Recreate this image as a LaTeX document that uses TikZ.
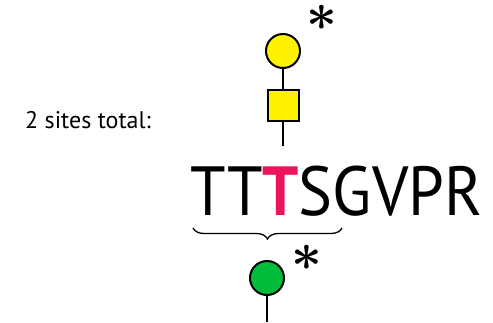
\documentclass[tikz,border=0pt]{standalone}
\usepackage{fontspec}
\setmainfont{PT Sans}
\usetikzlibrary{decorations.pathreplacing}
\definecolor{glcyellow}{RGB}{255,242,0}
\definecolor{glcgreen}{RGB}{0,190,60}
\definecolor{sitered}{RGB}{237,20,91}
\newcommand{\bigstarmark}{\scalebox{2.15}{\fontsize{24}{24}\selectfont\boldmath$\ast$}}
\tikzset{
  sugar/.style={draw=black, line width=2pt, inner sep=0pt},
  link/.style={line width=2pt},
  star/.style={inner sep=0pt, anchor=center},
}
\begin{document}
\begin{tikzpicture}[x=1pt,y=-1pt]
\useasboundingbox (0,0) rectangle (493,322);
\node[sugar, circle, fill=glcyellow, minimum size=34pt] (gal) at (283,51) {};
\node[sugar, rectangle, fill=glcyellow, minimum size=31pt] (galnac) at (283,105.5) {};
\coordinate (top1) at (283,146);
\draw[link] (gal) -- (galnac);
\draw[link] (galnac) -- (top1);
\node[star] (s1) at (322,18) {\bigstarmark};
\node[anchor=base west, inner sep=0pt, font=\fontsize{24}{24}\selectfont] (lbl) at (25,128) {2 sites total:};
\node[anchor=base west, inner sep=0pt] (seq) at (190,215) {\resizebox{292pt}{49.5pt}{TT\textcolor{sitered}{\bfseries T}SGVPR}};
\coordinate (bl) at (193,228);
\coordinate (br) at (342,228);
\draw[line width=1.3pt, decorate, decoration={brace, mirror, amplitude=11pt}] (bl) -- (br);
\node[sugar, circle, fill=glcgreen, minimum size=34pt] (glc) at (267,278) {};
\coordinate (bot) at (267,322);
\draw[link] (glc) -- (bot);
\node[star] (s2) at (307,258) {\bigstarmark};
\end{tikzpicture}
\end{document}
